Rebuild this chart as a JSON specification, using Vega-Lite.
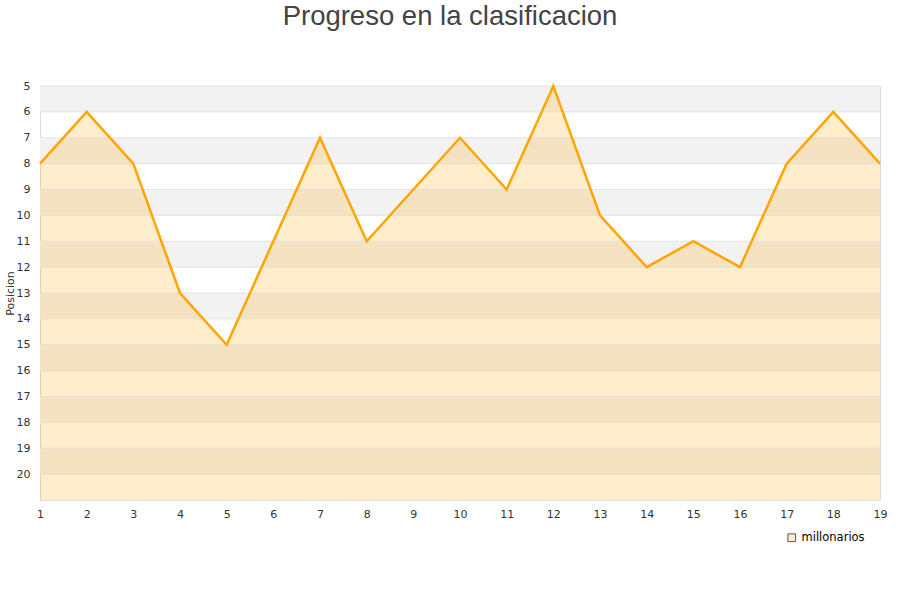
{
  "$schema": "https://vega.github.io/schema/vega-lite/v6.json",
  "width": 840,
  "height": 414,
  "autosize": {"type": "none"},
  "padding": {"left": 40, "top": 86, "right": 20, "bottom": 100},
  "background": "white",
  "title": {"text": "Progreso en la clasificacion", "fontSize": 27.5, "fontWeight": "normal", "color": "#444444", "font": "Liberation Sans", "anchor": "middle", "offset": 50, "dx": -10},
  "config": {
    "view": {"stroke": "#dddddd"},
    "font": "DejaVu Sans",
    "axis": {"labelFont": "DejaVu Sans", "labelFontSize": 11, "labelColor": "#333333", "ticks": false, "domain": false}
  },
  "datasets": {
    "bands": [
      {"a": 5, "b": 6}, {"a": 7, "b": 8}, {"a": 9, "b": 10}, {"a": 11, "b": 12},
      {"a": 13, "b": 14}, {"a": 15, "b": 16}, {"a": 17, "b": 18}, {"a": 19, "b": 20}
    ],
    "grid": [
      {"g": 5}, {"g": 6}, {"g": 7}, {"g": 8}, {"g": 9}, {"g": 10}, {"g": 11}, {"g": 12},
      {"g": 13}, {"g": 14}, {"g": 15}, {"g": 16}, {"g": 17}, {"g": 18}, {"g": 19}, {"g": 20}
    ],
    "pos": [
      {"jornada": 1, "posicion": 8}, {"jornada": 2, "posicion": 6}, {"jornada": 3, "posicion": 8},
      {"jornada": 4, "posicion": 13}, {"jornada": 5, "posicion": 15}, {"jornada": 6, "posicion": 11},
      {"jornada": 7, "posicion": 7}, {"jornada": 8, "posicion": 11}, {"jornada": 9, "posicion": 9},
      {"jornada": 10, "posicion": 7}, {"jornada": 11, "posicion": 9}, {"jornada": 12, "posicion": 5},
      {"jornada": 13, "posicion": 10}, {"jornada": 14, "posicion": 12}, {"jornada": 15, "posicion": 11},
      {"jornada": 16, "posicion": 12}, {"jornada": 17, "posicion": 8}, {"jornada": 18, "posicion": 6},
      {"jornada": 19, "posicion": 8}
    ]
  },
  "encoding": {
    "y": {"type": "quantitative", "scale": {"domain": [5, 21], "reverse": true, "nice": false, "zero": false},
          "axis": {"values": [5,6,7,8,9,10,11,12,13,14,15,16,17,18,19,20], "labelOverlap": false, "grid": false, "title": "Posicion", "titleFontSize": 11, "titleFontWeight": "normal", "titleColor": "#333333", "labelPadding": 10, "titlePadding": 1}}
  },
  "layer": [
    {
      "data": {"name": "bands"},
      "mark": {"type": "rect", "fill": "#f2f2f2"},
      "encoding": {
        "y": {"field": "a", "type": "quantitative"},
        "y2": {"field": "b"}
      }
    },
    {
      "data": {"name": "pos"},
      "mark": {"type": "area", "fill": "#FFA500", "fillOpacity": 0.2, "interpolate": "linear"},
      "encoding": {
        "x": {"field": "jornada", "type": "quantitative", "scale": {"domain": [1, 19], "nice": false, "zero": false},
              "axis": {"values": [1,2,3,4,5,6,7,8,9,10,11,12,13,14,15,16,17,18,19], "labelOverlap": false, "labelFlush": false, "labelBound": false, "grid": false, "title": null, "labelPadding": 8, "format": "d"}},
        "y": {"field": "posicion", "type": "quantitative"},
        "y2": {"datum": 21}
      }
    },
    {
      "data": {"name": "grid"},
      "mark": {"type": "rule", "color": "#dcdcdc", "strokeWidth": 1, "opacity": 0.7},
      "encoding": {
        "y": {"field": "g", "type": "quantitative"}
      }
    },
    {
      "data": {"name": "pos"},
      "mark": {"type": "line", "color": "#FFA500", "strokeWidth": 2.5},
      "encoding": {
        "x": {"field": "jornada", "type": "quantitative"},
        "y": {"field": "posicion", "type": "quantitative"}
      }
    },
    {
      "data": {"values": [{"jornada": 1, "posicion": 8}]},
      "mark": {"type": "square", "opacity": 0, "filled": true, "stroke": "#555555", "strokeWidth": 1},
      "encoding": {
        "x": {"field": "jornada", "type": "quantitative"},
        "y": {"field": "posicion", "type": "quantitative"},
        "fill": {"datum": "millonarios", "scale": {"range": ["#ffedcc"]},
                 "legend": {"title": null, "orient": "none", "legendX": 746, "legendY": 446, "symbolType": "square", "symbolSize": 60, "symbolStrokeColor": "#555555", "symbolStrokeWidth": 1, "labelFontSize": 11.5, "labelColor": "#000000", "labelFont": "DejaVu Sans"}}
      }
    }
  ]
}
